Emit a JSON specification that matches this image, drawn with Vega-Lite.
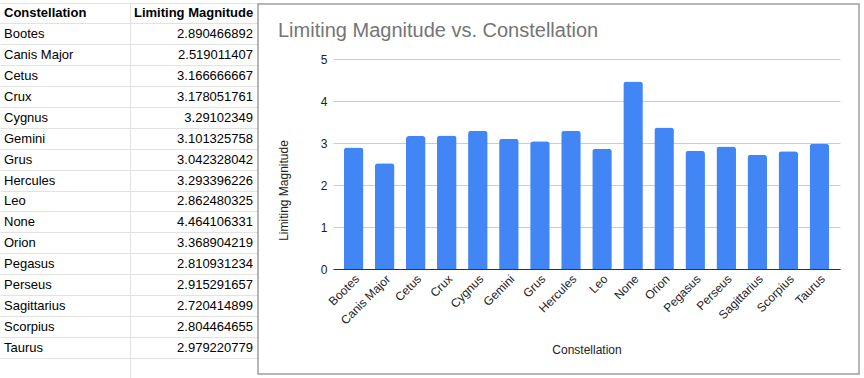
{
  "$schema": "https://vega.github.io/schema/vega-lite/v6.json",
  "padding": 0,
  "background": "white",
  "config": {"font": "Liberation Sans", "view": {"stroke": null}},
  "datasets": {
    "mag": [
      {"Constellation": "Bootes", "Limiting Magnitude": 2.890466892},
      {"Constellation": "Canis Major", "Limiting Magnitude": 2.519011407},
      {"Constellation": "Cetus", "Limiting Magnitude": 3.166666667},
      {"Constellation": "Crux", "Limiting Magnitude": 3.178051761},
      {"Constellation": "Cygnus", "Limiting Magnitude": 3.29102349},
      {"Constellation": "Gemini", "Limiting Magnitude": 3.101325758},
      {"Constellation": "Grus", "Limiting Magnitude": 3.042328042},
      {"Constellation": "Hercules", "Limiting Magnitude": 3.293396226},
      {"Constellation": "Leo", "Limiting Magnitude": 2.862480325},
      {"Constellation": "None", "Limiting Magnitude": 4.464106331},
      {"Constellation": "Orion", "Limiting Magnitude": 3.368904219},
      {"Constellation": "Pegasus", "Limiting Magnitude": 2.810931234},
      {"Constellation": "Perseus", "Limiting Magnitude": 2.915291657},
      {"Constellation": "Sagittarius", "Limiting Magnitude": 2.720414899},
      {"Constellation": "Scorpius", "Limiting Magnitude": 2.804464655},
      {"Constellation": "Taurus", "Limiting Magnitude": 2.979220779}
    ]
  },
  "spacing": 0,
  "bounds": "flush",
  "center": true,
  "hconcat": [
    {
      "width": 258,
      "height": 378,
      "data": {"name": "mag"},
      "layer": [
        {
          "mark": {"type": "text", "align": "left", "baseline": "middle", "dx": 4, "fontSize": 13, "color": "#000000"},
          "encoding": {
            "y": {
              "field": "Constellation", "type": "nominal", "bandPosition": 0.5,
              "scale": {
                "type": "band",
                "domain": ["Constellation", "Bootes", "Canis Major", "Cetus", "Crux", "Cygnus", "Gemini", "Grus", "Hercules", "Leo", "None", "Orion", "Pegasus", "Perseus", "Sagittarius", "Scorpius", "Taurus", " "],
                "range": [3, 379], "paddingInner": 0, "paddingOuter": 0
              },
              "axis": {"orient": "left", "labels": false, "ticks": false, "domain": false, "grid": true, "gridColor": "#e2e2e2", "bandPosition": 0, "title": null}
            },
            "x": {
              "datum": "A", "type": "nominal", "bandPosition": 0,
              "scale": {"type": "band", "domain": ["A", "B"], "range": [0, 260], "paddingInner": 0, "paddingOuter": 0},
              "axis": {"orient": "top", "values": ["B"], "labels": false, "ticks": false, "domain": false, "grid": true, "gridColor": "#e2e2e2", "bandPosition": 0, "title": null}
            },
            "text": {"field": "Constellation", "type": "nominal"}
          }
        },
        {
          "mark": {"type": "text", "align": "right", "baseline": "middle", "dx": -7, "fontSize": 13, "color": "#000000"},
          "encoding": {
            "y": {"field": "Constellation", "type": "nominal", "bandPosition": 0.5},
            "x": {"datum": "B", "type": "nominal", "bandPosition": 1},
            "text": {"field": "Limiting Magnitude", "type": "nominal"}
          }
        },
        {
          "data": {"values": [{}]},
          "mark": {"type": "text", "align": "left", "baseline": "middle", "dx": 4, "fontSize": 13, "fontWeight": "bold", "color": "#000000"},
          "encoding": {
            "y": {"datum": "Constellation", "type": "nominal", "bandPosition": 0.5},
            "x": {"datum": "A", "type": "nominal", "bandPosition": 0},
            "text": {"value": "Constellation"}
          }
        },
        {
          "data": {"values": [{}]},
          "mark": {"type": "text", "align": "left", "baseline": "middle", "dx": 4, "fontSize": 13, "fontWeight": "bold", "color": "#000000"},
          "encoding": {
            "y": {"datum": "Constellation", "type": "nominal", "bandPosition": 0.5},
            "x": {"datum": "B", "type": "nominal", "bandPosition": 0},
            "text": {"value": "Limiting Magnitude"}
          }
        }
      ]
    },
    {
      "width": 601,
      "height": 370,
      "view": {"stroke": "#9e9e9e", "strokeWidth": 1.5, "fill": "white"},
      "title": {"text": "Limiting Magnitude vs. Constellation", "anchor": "start", "frame": "group", "dx": 20, "offset": -53, "baseline": "alphabetic", "fontSize": 20, "fontWeight": "normal", "color": "#757575", "font": "Liberation Sans"},
      "data": {"name": "mag"},
      "mark": {"type": "bar", "color": "#4285F4", "cornerRadiusTopLeft": 3, "cornerRadiusTopRight": 3},
      "encoding": {
        "x": {
          "field": "Constellation", "type": "nominal", "sort": null,
          "scale": {"range": [75, 582], "paddingInner": 0.37, "paddingOuter": 0.35},
          "axis": {"orient": "bottom", "offset": -105, "labelAngle": -45, "labelFontSize": 12, "labelColor": "#222222", "labelPadding": 4, "ticks": false, "domainColor": "#333333", "grid": false, "title": "Constellation", "titleFontSize": 12, "titleFontWeight": "normal", "titleColor": "#222222", "titleY": 80, "titleBaseline": "middle"}
        },
        "y": {
          "field": "Limiting Magnitude", "type": "quantitative",
          "scale": {"domain": [0, 5], "range": [265, 55], "nice": false},
          "axis": {"offset": -75, "values": [0, 1, 2, 3, 4, 5], "domain": false, "ticks": false, "labelPadding": 6, "labelFontSize": 12, "labelColor": "#222222", "gridColor": "#cccccc", "title": "Limiting Magnitude", "titleFontSize": 12, "titleFontWeight": "normal", "titleColor": "#222222", "titleX": -50, "titleY": 186, "titleBaseline": "middle", "titleAngle": -90}
        }
      }
    }
  ]
}
